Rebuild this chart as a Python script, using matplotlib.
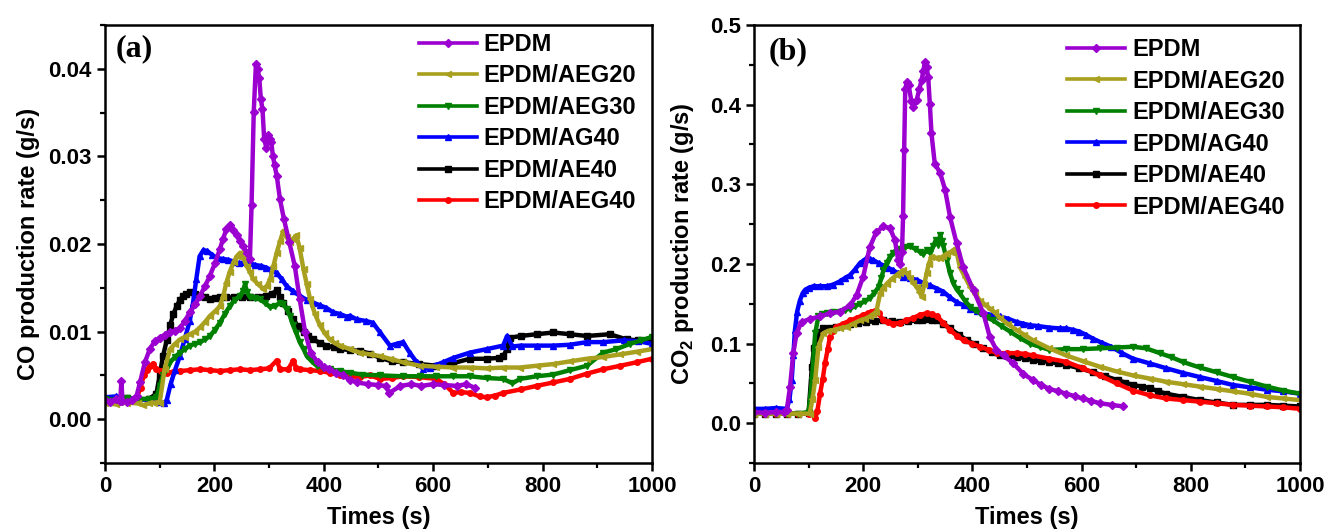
import matplotlib
matplotlib.use('Agg')
import matplotlib.pyplot as plt
import matplotlib as mpl
import numpy as np

plt.rcParams['font.family'] = 'Liberation Sans'
plt.rcParams['font.weight'] = 'bold'
plt.rcParams['axes.labelweight'] = 'bold'
plt.rcParams['mathtext.fontset'] = 'custom'
plt.rcParams['mathtext.rm'] = 'Liberation Sans:bold'
plt.rcParams['mathtext.bf'] = 'Liberation Sans:bold'
plt.rcParams['axes.linewidth'] = 1.8

labels = ['EPDM', 'EPDM/AEG20', 'EPDM/AEG30', 'EPDM/AG40', 'EPDM/AE40', 'EPDM/AEG40']
colors = ['#9b00d0', '#a8a01e', '#008000', '#0000ff', '#000000', '#ff0000']
markers = ['D', '<', 'v', '^', 's', 'o']

# ---- (a) CO production rate, values in 1e-3 g/s ----
t_co_epdm = [0, 10, 20, 28, 30, 32, 40, 50, 58, 64, 73, 82, 91, 100, 110, 119, 128, 137, 146, 155,
             165, 174, 183, 192, 201, 210, 216, 222, 228, 234, 241, 247, 253, 259, 265, 268, 272, 276,
             279, 282, 285, 288, 291, 295, 298, 301, 304, 307, 310, 314, 320, 327, 337, 347, 356, 366,
             376, 389, 400, 409, 422, 435, 448, 461, 480, 500, 513, 520, 540, 560, 578, 600, 620, 644,
             660, 676]
co_epdm = [2.2, 2.0, 2.3, 2.1, 4.4, 2.1, 2.0, 2.2, 2.7, 4.2, 6.5, 8.0, 8.9, 9.3, 9.6, 9.9, 10.1, 10.4,
           11.2, 12.2, 13.1, 14.1, 15.2, 16.4, 17.8, 19.4, 20.6, 21.7, 22.2, 21.6, 21.0, 20.3, 19.8,
           19.0, 18.3, 24.4, 35.1, 40.6, 40.0, 39.0, 36.5, 35.4, 32.0, 31.0, 32.4, 32.0, 31.6, 30.1,
           29.0, 27.8, 25.1, 22.9, 20.2, 17.5, 13.7, 9.9, 7.6, 6.5, 6.0, 5.7, 5.3, 5.0, 4.5, 4.2, 4.0,
           3.9, 3.8, 3.0, 3.8, 4.0, 3.8, 4.0, 3.9, 3.8, 4.0, 3.6]

t_co_aeg20 = [0, 20, 40, 60, 70, 80, 90, 100, 109, 119, 128, 137, 146, 155, 165, 174, 183, 192, 201,
              210, 216, 222, 228, 235, 241, 247, 253, 259, 265, 271, 280, 289, 296, 302, 308, 314, 320,
              326, 332, 338, 344, 350, 356, 363, 369, 375, 384, 393, 402, 411, 420, 430, 448, 466, 484,
              503, 521, 545, 576, 606, 637, 667, 698, 728, 759, 789, 820, 850, 881, 911, 942, 972, 1000]
co_aeg20 = [1.8, 1.7, 1.9, 1.8, 1.6, 1.8, 1.9, 1.9, 5.7, 8.0, 8.6, 9.1, 9.4, 9.7, 10.0, 10.5, 11.1,
            11.8, 12.3, 12.9, 14.0, 15.6, 16.8, 17.9, 18.6, 19.0, 18.4, 17.5, 16.8, 16.0, 15.4, 14.9,
            15.2, 16.0, 17.5, 19.0, 20.3, 21.5, 20.8, 20.2, 20.6, 21.0, 19.5, 17.1, 15.4, 13.7, 12.0,
            10.7, 9.8, 9.1, 8.7, 8.4, 8.0, 7.6, 7.4, 7.2, 6.9, 6.5, 6.1, 6.0, 5.9, 5.9, 5.8, 5.9, 5.9,
            6.1, 6.3, 6.6, 6.9, 7.1, 7.4, 7.7, 8.0]

t_co_aeg30 = [0, 20, 40, 60, 80, 94, 100, 106, 113, 119, 128, 137, 146, 155, 165, 174, 183, 192, 201,
              210, 219, 228, 237, 247, 252, 256, 260, 265, 274, 283, 292, 302, 311, 320, 326, 332, 338,
              344, 350, 356, 363, 369, 378, 387, 399, 411, 430, 448, 470, 503, 545, 576, 606, 637, 667,
              698, 728, 745, 759, 789, 820, 850, 881, 911, 935, 960, 980, 1000]
co_aeg30 = [2.3, 2.2, 2.4, 2.3, 2.3, 2.5, 3.8, 5.0, 5.9, 6.5, 7.1, 7.6, 8.0, 8.4, 8.6, 8.8, 9.1, 9.5,
            10.2, 11.0, 12.0, 12.9, 13.6, 14.1, 14.6, 15.4, 14.5, 13.9, 13.8, 13.7, 13.3, 12.8, 12.9,
            13.3, 13.1, 12.6, 11.8, 10.7, 9.8, 8.8, 8.0, 7.2, 6.6, 6.1, 5.9, 5.7, 5.5, 5.3, 5.1, 5.0,
            4.9, 4.9, 4.9, 4.9, 4.9, 4.7, 4.6, 4.1, 4.6, 4.9, 5.1, 5.6, 6.1, 7.6, 8.0, 8.6, 9.0, 9.4]

t_co_ag40 = [0, 20, 40, 60, 80, 100, 108, 113, 120, 128, 137, 146, 155, 161, 167, 173, 180, 187, 195,
             205, 215, 225, 235, 245, 255, 265, 275, 285, 295, 305, 314, 323, 332, 344, 356, 369, 381,
             393, 405, 417, 430, 442, 448, 460, 478, 490, 503, 521, 533, 545, 557, 570, 582, 594, 606,
             618, 637, 667, 698, 728, 735, 745, 760, 789, 820, 850, 881, 911, 948, 975, 1000]
co_ag40 = [2.5, 2.6, 2.4, 2.3, 2.2, 2.0, 1.8, 2.2, 4.0, 5.6, 7.2, 9.2, 11.2, 13.3, 16.0, 18.6, 19.3,
           19.2, 18.8, 18.4, 18.3, 18.2, 18.0, 17.8, 17.9, 17.8, 17.6, 17.5, 17.3, 17.0, 16.7, 16.0,
           15.2, 14.6, 14.1, 13.6, 13.3, 13.0, 12.7, 12.2, 12.0, 11.7, 11.8, 11.4, 11.2, 11.0, 9.9,
           8.4, 8.6, 8.8, 7.6, 6.5, 5.7, 5.9, 6.2, 6.5, 7.0, 7.6, 8.0, 8.4, 9.5, 8.3, 8.4, 8.4, 8.4,
           8.5, 8.8, 8.8, 9.0, 8.9, 8.6]

t_co_ae40 = [0, 20, 40, 60, 80, 94, 100, 106, 113, 119, 125, 131, 137, 143, 149, 155, 165, 174, 183,
             192, 201, 210, 222, 235, 250, 265, 280, 295, 305, 314, 320, 326, 335, 344, 353, 363, 372,
             381, 393, 405, 418, 430, 448, 466, 484, 503, 525, 545, 575, 606, 637, 667, 698, 720, 728,
             735, 740, 760, 789, 820, 850, 881, 923, 954, 975, 1000]
co_ae40 = [2.3, 2.2, 2.4, 2.3, 2.3, 2.9, 5.0, 7.2, 9.0, 10.7, 12.0, 12.9, 13.6, 14.1, 14.3, 14.5,
           14.3, 14.1, 13.9, 13.7, 13.8, 13.9, 13.9, 13.9, 13.9, 13.9, 14.0, 14.1, 14.3, 14.7, 13.9,
           13.3, 12.3, 11.4, 10.6, 9.9, 9.5, 9.1, 8.7, 8.4, 8.2, 8.0, 7.9, 7.8, 7.5, 7.0, 6.6, 6.5,
           6.3, 6.1, 6.4, 6.9, 6.9, 7.0, 7.2, 8.0, 9.3, 9.5, 9.7, 9.9, 9.7, 9.5, 9.7, 9.1, 9.0, 9.0]

t_co_aeg40 = [0, 20, 40, 58, 65, 71, 76, 82, 88, 94, 103, 113, 125, 137, 155, 174, 192, 210, 228, 247,
              265, 283, 300, 314, 320, 335, 344, 350, 356, 375, 393, 411, 430, 448, 466, 484, 503, 525,
              545, 575, 606, 620, 637, 650, 667, 685, 698, 713, 728, 760, 789, 820, 850, 881, 911, 942,
              972, 1000]
co_aeg40 = [2.3, 2.2, 2.1, 2.4, 3.6, 5.0, 5.6, 6.1, 6.3, 5.7, 5.5, 5.3, 5.4, 5.5, 5.6, 5.7, 5.6, 5.5,
            5.6, 5.7, 5.6, 5.7, 5.8, 6.7, 5.7, 5.7, 6.7, 5.8, 5.7, 5.6, 5.5, 5.3, 5.0, 4.9, 4.8, 5.0,
            4.6, 4.7, 4.9, 4.8, 4.6, 4.0, 3.0, 3.1, 3.0, 2.6, 2.5, 2.7, 3.0, 3.4, 3.8, 4.2, 4.6, 5.2,
            5.7, 6.1, 6.5, 6.9]

# ---- (b) CO2 production rate, g/s ----
t_co2_epdm = [0, 20, 40, 55, 60, 66, 72, 78, 87, 103, 121, 139, 157, 176, 188, 200, 212, 224, 237,
              249, 258, 264, 268, 271, 273, 275, 277, 280, 283, 288, 292, 298, 303, 307, 310, 313, 316,
              319, 322, 325, 331, 341, 350, 359, 371, 383, 402, 420, 432, 444, 457, 475, 493, 511, 526,
              541, 557, 572, 587, 602, 618, 633, 655, 676]
co2_epdm = [0.014, 0.013, 0.014, 0.014, 0.016, 0.046, 0.088, 0.113, 0.127, 0.131, 0.134, 0.138, 0.140,
            0.148, 0.161, 0.184, 0.221, 0.240, 0.247, 0.245, 0.230, 0.205, 0.200, 0.215, 0.260, 0.343,
            0.420, 0.428, 0.425, 0.405, 0.397, 0.406, 0.420, 0.431, 0.442, 0.454, 0.447, 0.435, 0.401,
            0.364, 0.326, 0.314, 0.293, 0.259, 0.226, 0.196, 0.167, 0.138, 0.108, 0.092, 0.085, 0.075,
            0.062, 0.054, 0.048, 0.043, 0.040, 0.037, 0.034, 0.031, 0.028, 0.025, 0.023, 0.021]

t_co2_aeg20 = [0, 20, 40, 60, 80, 102, 107, 112, 118, 127, 136, 145, 157, 170, 182, 194, 203, 212,
               218, 224, 231, 237, 243, 252, 261, 267, 273, 280, 286, 292, 298, 303, 307, 312, 316,
               320, 325, 333, 341, 347, 353, 360, 368, 372, 377, 386, 396, 405, 414, 423, 432, 441,
               451, 466, 481, 495, 511, 541, 572, 602, 633, 664, 694, 725, 755, 786, 816, 847, 877,
               908, 939, 969, 1000]
co2_aeg20 = [0.012, 0.012, 0.012, 0.012, 0.012, 0.012, 0.030, 0.054, 0.096, 0.113, 0.116, 0.117,
             0.119, 0.121, 0.125, 0.129, 0.131, 0.134, 0.137, 0.140, 0.163, 0.170, 0.175, 0.181, 0.186,
             0.189, 0.192, 0.188, 0.182, 0.176, 0.171, 0.165, 0.159, 0.175, 0.188, 0.200, 0.209, 0.208,
             0.207, 0.210, 0.213, 0.215, 0.219, 0.212, 0.196, 0.184, 0.171, 0.162, 0.154, 0.149, 0.144,
             0.139, 0.132, 0.124, 0.117, 0.111, 0.104, 0.094, 0.085, 0.078, 0.071, 0.065, 0.060, 0.056,
             0.052, 0.049, 0.046, 0.043, 0.040, 0.037, 0.033, 0.031, 0.029]

t_co2_aeg30 = [0, 20, 40, 60, 80, 100, 106, 112, 118, 125, 133, 145, 157, 166, 176, 185, 194, 203,
               212, 220, 228, 233, 237, 243, 249, 255, 261, 267, 276, 286, 295, 304, 310, 316, 322,
               328, 333, 337, 341, 344, 347, 353, 359, 365, 371, 377, 386, 396, 405, 414, 426, 438,
               453, 469, 487, 505, 523, 541, 572, 602, 633, 664, 694, 718, 743, 764, 785, 816, 847,
               877, 908, 939, 969, 1000]
co2_aeg30 = [0.012, 0.012, 0.012, 0.012, 0.012, 0.014, 0.054, 0.113, 0.134, 0.137, 0.138, 0.139,
             0.140, 0.142, 0.144, 0.147, 0.150, 0.153, 0.157, 0.163, 0.171, 0.182, 0.192, 0.201, 0.209,
             0.214, 0.218, 0.219, 0.221, 0.222, 0.219, 0.215, 0.212, 0.217, 0.214, 0.222, 0.230, 0.224,
             0.236, 0.229, 0.222, 0.205, 0.188, 0.176, 0.168, 0.163, 0.154, 0.146, 0.142, 0.138, 0.133,
             0.129, 0.122, 0.115, 0.107, 0.100, 0.096, 0.092, 0.093, 0.093, 0.094, 0.095, 0.096, 0.094,
             0.088, 0.083, 0.077, 0.070, 0.064, 0.058, 0.052, 0.046, 0.041, 0.037]

t_co2_ag40 = [0, 20, 40, 60, 65, 69, 72, 75, 79, 84, 89, 93, 100, 109, 121, 133, 145, 157, 166, 176,
              185, 194, 200, 206, 212, 218, 228, 237, 246, 255, 264, 273, 286, 298, 310, 322, 335, 347,
              359, 371, 384, 396, 408, 420, 435, 451, 466, 481, 493, 505, 520, 541, 560, 572, 585, 596,
              608, 621, 637, 654, 674, 694, 725, 755, 786, 816, 847, 877, 908, 939, 969, 1000]
co2_ag40 = [0.018, 0.018, 0.019, 0.018, 0.030, 0.054, 0.085, 0.117, 0.140, 0.154, 0.163, 0.167, 0.170,
            0.172, 0.172, 0.172, 0.174, 0.178, 0.182, 0.186, 0.193, 0.201, 0.204, 0.207, 0.206, 0.205,
            0.201, 0.198, 0.195, 0.192, 0.188, 0.184, 0.182, 0.180, 0.176, 0.173, 0.169, 0.165, 0.158,
            0.152, 0.148, 0.144, 0.141, 0.138, 0.136, 0.134, 0.131, 0.127, 0.125, 0.123, 0.122, 0.120,
            0.119, 0.119, 0.117, 0.115, 0.111, 0.106, 0.101, 0.096, 0.088, 0.081, 0.075, 0.069, 0.063,
            0.058, 0.053, 0.048, 0.045, 0.042, 0.040, 0.037]

t_co2_ae40 = [0, 20, 40, 60, 80, 100, 106, 110, 115, 121, 127, 139, 151, 164, 176, 191, 206, 221, 237,
              252, 267, 282, 298, 307, 316, 326, 335, 347, 359, 375, 390, 405, 420, 435, 451, 466, 481,
              496, 511, 526, 541, 556, 572, 596, 621, 643, 666, 680, 694, 710, 725, 740, 755, 786, 816,
              847, 877, 908, 939, 969, 1000]
co2_ae40 = [0.012, 0.012, 0.012, 0.012, 0.012, 0.013, 0.071, 0.095, 0.108, 0.115, 0.119, 0.120, 0.121,
            0.123, 0.125, 0.126, 0.127, 0.128, 0.129, 0.128, 0.127, 0.128, 0.129, 0.130, 0.131, 0.130,
            0.129, 0.125, 0.119, 0.111, 0.104, 0.099, 0.094, 0.089, 0.085, 0.084, 0.083, 0.082, 0.079,
            0.078, 0.077, 0.075, 0.073, 0.069, 0.064, 0.059, 0.054, 0.051, 0.048, 0.046, 0.044, 0.040,
            0.037, 0.033, 0.029, 0.026, 0.023, 0.023, 0.023, 0.022, 0.021]

t_co2_aeg40 = [0, 20, 40, 60, 80, 100, 109, 112, 116, 121, 126, 130, 135, 139, 145, 151, 163, 176, 188,
               200, 208, 215, 222, 228, 237, 246, 255, 267, 279, 291, 304, 316, 326, 335, 347, 359,
               371, 384, 399, 414, 430, 445, 463, 481, 496, 511, 541, 572, 602, 633, 664, 694, 725,
               755, 786, 816, 847, 877, 908, 939, 969, 1000]
co2_aeg40 = [0.012, 0.012, 0.012, 0.012, 0.012, 0.012, 0.011, 0.006, 0.015, 0.037, 0.056, 0.075, 0.093,
             0.108, 0.116, 0.121, 0.125, 0.129, 0.132, 0.136, 0.138, 0.140, 0.141, 0.138, 0.129, 0.127,
             0.125, 0.126, 0.129, 0.132, 0.136, 0.138, 0.137, 0.134, 0.126, 0.117, 0.110, 0.104, 0.100,
             0.096, 0.092, 0.088, 0.088, 0.088, 0.087, 0.085, 0.081, 0.077, 0.069, 0.060, 0.050, 0.041,
             0.035, 0.031, 0.029, 0.027, 0.025, 0.023, 0.022, 0.021, 0.020, 0.018]

co_series = [(t_co_epdm, np.array(co_epdm) / 1000), (t_co_aeg20, np.array(co_aeg20) / 1000),
             (t_co_aeg30, np.array(co_aeg30) / 1000), (t_co_ag40, np.array(co_ag40) / 1000),
             (t_co_ae40, np.array(co_ae40) / 1000), (t_co_aeg40, np.array(co_aeg40) / 1000)]
co2_series = [(t_co2_epdm, co2_epdm), (t_co2_aeg20, co2_aeg20), (t_co2_aeg30, co2_aeg30),
              (t_co2_ag40, co2_ag40), (t_co2_ae40, co2_ae40), (t_co2_aeg40, co2_aeg40)]

fig = plt.figure(figsize=(13.27, 5.32), dpi=100)
ax1 = fig.add_axes([0.0791, 0.1297, 0.4122, 0.8233])
ax2 = fig.add_axes([0.5682, 0.1297, 0.4115, 0.8233])

# draw order: black, red, blue, green, olive, purple on top
order = [4, 5, 3, 2, 1, 0]


def draw(ax, series):
    handles = {}
    for i in order:
        t, v = series[i]
        h, = ax.plot(t, v, '-', color=colors[i], lw=3.2, marker=markers[i], ms=4,
                     mec=colors[i], mfc=colors[i], label=labels[i])
        handles[i] = h
    return [handles[i] for i in range(6)]


h1 = draw(ax1, co_series)
h2 = draw(ax2, co2_series)

for ax in (ax1, ax2):
    ax.set_xlim(0, 1000)
    ax.xaxis.set_major_locator(mpl.ticker.MultipleLocator(200))
    ax.xaxis.set_minor_locator(mpl.ticker.MultipleLocator(100))
    ax.tick_params(which='major', direction='out', length=6, width=1.8, labelsize=16)
    ax.tick_params(which='minor', direction='out', length=3.5, width=1.6)
    ax.set_xlabel('Times (s)', fontsize=17, labelpad=6)

ax1.set_ylim(-0.005, 0.045)
ax1.yaxis.set_major_locator(mpl.ticker.MultipleLocator(0.01))
ax1.yaxis.set_minor_locator(mpl.ticker.MultipleLocator(0.005))
ax1.yaxis.set_major_formatter(mpl.ticker.FormatStrFormatter('%.2f'))
ax1.set_ylabel('CO production rate (g/s)', fontsize=17, labelpad=6)

ax2.set_ylim(-0.05, 0.5)
ax2.yaxis.set_major_locator(mpl.ticker.MultipleLocator(0.1))
ax2.yaxis.set_minor_locator(mpl.ticker.MultipleLocator(0.05))
ax2.yaxis.set_major_formatter(mpl.ticker.FormatStrFormatter('%.1f'))
ax2.set_ylabel('CO$_2$ production rate (g/s)', fontsize=17, labelpad=10)

ax1.text(0.02, 0.945, '(a)', transform=ax1.transAxes, fontsize=23, fontweight='bold',
         family='Liberation Serif', va='center', ha='left')
ax2.text(0.026, 0.94, '(b)', transform=ax2.transAxes, fontsize=23, fontweight='bold',
         family='Liberation Serif', va='center', ha='left')

for ax, hs, y0 in ((ax1, h1, 0.982), (ax2, h2, 0.97)):
    leg = ax.legend(hs, labels, loc='upper left', bbox_to_anchor=(0.574, y0), frameon=False,
                    fontsize=17, numpoints=1, handlelength=2.45, handletextpad=0.3,
                    labelspacing=0.36, borderpad=0, borderaxespad=0)
    for ln in leg.get_lines():
        ln.set_linewidth(2.6)

plt.savefig('out.png', dpi=100)
